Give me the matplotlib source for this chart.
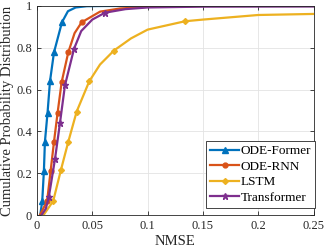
import numpy as np
import matplotlib
matplotlib.use('Agg')
import matplotlib.pyplot as plt

plt.rcParams['font.family'] = ['Liberation Serif', 'DejaVu Serif']
plt.rcParams['font.size'] = 10

former_x = [0.003, 0.0048, 0.0063, 0.0072, 0.0096, 0.0118, 0.0154, 0.0226, 0.028, 0.035, 0.045, 0.06, 0.1, 0.25]
former_y = [0.0, 0.067, 0.212, 0.35, 0.49, 0.64, 0.778, 0.922, 0.975, 0.993, 0.999, 1.0, 1.0, 1.0]
former_mk = [1, 2, 3, 4, 5, 6, 7]

rnn_x = [0.0027, 0.0092, 0.0124, 0.0154, 0.0187, 0.0223, 0.0283, 0.034, 0.0404, 0.057, 0.075, 0.1, 0.15, 0.25]
rnn_y = [0.0, 0.067, 0.212, 0.35, 0.49, 0.635, 0.778, 0.87, 0.922, 0.973, 0.988, 0.996, 1.0, 1.0]
rnn_mk = [1, 2, 3, 4, 5, 6, 8]

lstm_x = [0.006, 0.0147, 0.0217, 0.0283, 0.0359, 0.0473, 0.057, 0.0696, 0.085, 0.1, 0.1338, 0.15, 0.2, 0.25]
lstm_y = [0.0, 0.067, 0.216, 0.35, 0.495, 0.64, 0.72, 0.787, 0.845, 0.887, 0.927, 0.935, 0.957, 0.962]
lstm_mk = [1, 2, 3, 4, 5, 7, 10]

trans_x = [0.0042, 0.008, 0.0108, 0.0163, 0.0208, 0.0253, 0.0335, 0.04, 0.05, 0.0615, 0.08, 0.1, 0.15, 0.25]
trans_y = [0.0, 0.03, 0.088, 0.267, 0.44, 0.62, 0.795, 0.88, 0.935, 0.968, 0.985, 0.993, 0.997, 0.998]
trans_mk = [2, 3, 4, 5, 6, 9]

fig = plt.figure(figsize=(3.24, 2.5), dpi=100)
ax = fig.add_axes([0.114, 0.14, 0.854, 0.836])

ax.plot(former_x, former_y, color='#0072BD', lw=1.6, marker='^', ms=4, markevery=former_mk, label='ODE-Former')
ax.plot(rnn_x, rnn_y, color='#D95319', lw=1.6, marker='o', ms=3.5, markevery=rnn_mk, label='ODE-RNN')
ax.plot(lstm_x, lstm_y, color='#EDB120', lw=1.6, marker='D', ms=3, markevery=lstm_mk, label='LSTM')
ax.plot(trans_x, trans_y, color='#7E2F8E', lw=1.6, marker='*', ms=4.5, markevery=trans_mk, label='Transformer')

ax.set_xlim(0, 0.25)
ax.set_ylim(0, 1)
ax.set_xticks([0, 0.05, 0.1, 0.15, 0.2, 0.25])
ax.set_xticklabels(['0', '0.05', '0.1', '0.15', '0.2', '0.25'])
ax.set_yticks([0, 0.2, 0.4, 0.6, 0.8, 1])
ax.set_yticklabels(['0', '0.2', '0.4', '0.6', '0.8', '1'])
ax.grid(True, color='#e3e3e3', lw=0.6)
ax.set_axisbelow(True)
ax.tick_params(direction='in', length=3, width=0.6, colors='#262626', top=True, right=True, labelsize=9)
for s in ax.spines.values():
    s.set_color('#262626')
    s.set_linewidth(0.6)

ax.set_xlabel('NMSE', color='#262626', fontsize=10.5, labelpad=2)
ax.set_ylabel('Cumulative Probability Distribution', color='#262626', fontsize=10.5, labelpad=2)

leg = ax.legend(loc='lower right', bbox_to_anchor=(1.005, 0.035), borderaxespad=0,
                fancybox=False, edgecolor='#262626', framealpha=1,
                handlelength=2.2, handletextpad=0.1, borderpad=0.3, labelspacing=0.25,
                fontsize=9.5)
leg.get_frame().set_linewidth(0.6)

fig.savefig('out.png', dpi=100)
